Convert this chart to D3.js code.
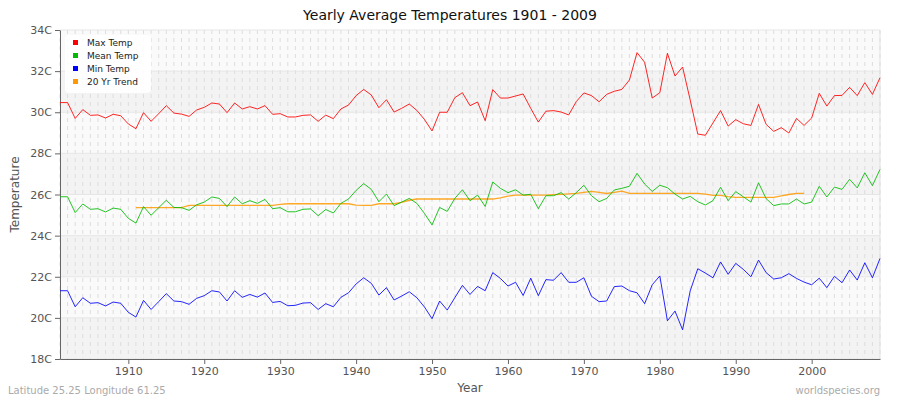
<!DOCTYPE html>
<html>
<head>
<meta charset="utf-8">
<script src="https://cdn.jsdelivr.net/npm/d3@7"></script>
<style>
  body { margin: 0; background: #fff; }
  text { font-family: "DejaVu Sans", Verdana, sans-serif; }
</style>
</head>
<body>
<div id="chart"></div>
<script>
// values, one per year 1901..2009
const firstYear = 1901;
const maxTemp = [
  30.47, 30.47, 29.70, 30.13, 29.85, 29.87, 29.72, 29.90, 29.83, 29.43,
  29.20, 29.98, 29.56, 29.93, 30.32, 29.96, 29.91, 29.80, 30.11, 30.24,
  30.45, 30.40, 29.98, 30.45, 30.16, 30.27, 30.16, 30.32, 29.90, 29.93,
  29.77, 29.77, 29.85, 29.87, 29.56, 29.86, 29.69, 30.16, 30.35, 30.81,
  31.11, 30.84, 30.22, 30.61, 30.01, 30.19, 30.40, 30.09, 29.65, 29.09,
  30.00, 30.00, 30.71, 30.95, 30.32, 30.50, 29.59, 31.10, 30.69, 30.69,
  30.79, 30.89, 30.19, 29.52, 30.05, 30.08, 30.01, 29.87, 30.52, 30.94,
  30.81, 30.51, 30.87, 31.02, 31.11, 31.57, 32.90, 32.43, 30.69, 30.95,
  32.87, 31.76, 32.20, 30.60, 28.94, 28.88, 29.48, 30.08, 29.33, 29.64,
  29.44, 29.36, 30.38, 29.41, 29.07, 29.25, 28.99, 29.70, 29.36, 29.72,
  30.92, 30.30, 30.81, 30.82, 31.21, 30.81, 31.44, 30.87, 31.68
];
const meanTemp = [
  25.89, 25.89, 25.12, 25.54, 25.28, 25.31, 25.15, 25.34, 25.28, 24.84,
  24.61, 25.41, 24.99, 25.36, 25.72, 25.37, 25.36, 25.23, 25.50, 25.63,
  25.88, 25.81, 25.41, 25.88, 25.55, 25.70, 25.57, 25.76, 25.31, 25.36,
  25.16, 25.16, 25.28, 25.30, 24.97, 25.27, 25.10, 25.57, 25.78, 26.20,
  26.53, 26.25, 25.65, 26.02, 25.46, 25.63, 25.81, 25.57, 25.08, 24.52,
  25.37, 25.18, 25.81, 26.23, 25.70, 25.97, 25.42, 26.61, 26.30, 26.09,
  26.23, 25.97, 26.01, 25.31, 25.94, 25.94, 26.09, 25.78, 26.09, 26.45,
  25.94, 25.65, 25.81, 26.22, 26.30, 26.40, 27.03, 26.51, 26.15, 26.45,
  26.33, 26.02, 25.78, 25.91, 25.65, 25.49, 25.70, 26.35, 25.70, 26.14,
  25.89, 25.63, 26.57, 25.80, 25.46, 25.54, 25.54, 25.78, 25.54, 25.63,
  26.40, 25.88, 26.36, 26.25, 26.74, 26.32, 27.06, 26.43, 27.22
];
const minTemp = [
  21.32, 21.32, 20.54, 20.98, 20.71, 20.74, 20.58, 20.77, 20.71, 20.27,
  20.04, 20.85, 20.41, 20.79, 21.18, 20.82, 20.79, 20.66, 20.95, 21.08,
  21.32, 21.26, 20.82, 21.32, 21.00, 21.14, 21.01, 21.21, 20.75, 20.80,
  20.59, 20.61, 20.72, 20.74, 20.41, 20.69, 20.54, 21.00, 21.22, 21.65,
  21.95, 21.68, 21.11, 21.47, 20.87, 21.06, 21.27, 20.98, 20.53, 19.96,
  20.82, 20.38, 20.98, 21.58, 21.14, 21.53, 21.32, 22.20, 21.92, 21.55,
  21.73, 21.09, 21.93, 21.08, 21.86, 21.83, 22.20, 21.73, 21.73, 21.95,
  21.05, 20.79, 20.82, 21.52, 21.55, 21.32, 21.22, 20.69, 21.61, 22.04,
  19.86, 20.33, 19.42, 21.31, 22.39, 22.18, 21.95, 22.72, 22.12, 22.65,
  22.36, 22.00, 22.81, 22.20, 21.89, 21.95, 22.15, 21.92, 21.74, 21.61,
  21.93, 21.47, 22.02, 21.71, 22.33, 21.84, 22.68, 21.95, 22.89
];
// 20 year trend, 1911..1999
const trendStart = 1911;
const trend = [
  25.36, 25.36, 25.36, 25.36, 25.36, 25.36, 25.36, 25.47, 25.47, 25.47,
  25.47, 25.47, 25.47, 25.47, 25.47, 25.47, 25.47, 25.47, 25.47, 25.52,
  25.55, 25.55, 25.55, 25.55, 25.55, 25.55, 25.55, 25.55, 25.55, 25.48,
  25.47, 25.47, 25.55, 25.55, 25.55, 25.62, 25.72, 25.78, 25.78, 25.78,
  25.78, 25.78, 25.78, 25.78, 25.78, 25.78, 25.78, 25.78, 25.84, 25.92,
  25.97, 25.97, 25.97, 25.97, 25.97, 25.99, 26.01, 26.03, 26.05, 26.10,
  26.15, 26.10, 26.05, 26.10, 26.16, 26.05, 26.05, 26.05, 26.05, 26.05,
  26.05, 26.05, 26.05, 26.05, 26.05, 26.02, 25.96, 25.96, 25.90, 25.86,
  25.86, 25.86, 25.86, 25.86, 25.86, 25.93, 26.00, 26.05, 26.05
];
const yTicks = [18, 20, 22, 24, 26, 28, 30, 32, 34];
const xTicks = [1910, 1920, 1930, 1940, 1950, 1960, 1970, 1980, 1990, 2000];
const seriesNames = ["Max Temp", "Mean Temp", "Min Temp", "20 Yr Trend"];
const seriesColors = ["#ff0000", "#00bb00", "#0000ff", "#ff9900"];

const width = 900, height = 400;
const margin = { top: 30, right: 20, bottom: 41, left: 60 };

const svg = d3.select("#chart").append("svg")
  .attr("width", width)
  .attr("height", height);

const x = d3.scaleLinear()
  .domain([1901, 2009])
  .range([margin.left, width - margin.right]);

const y = d3.scaleLinear()
  .domain([18, 34])
  .range([height - margin.bottom, margin.top]);

// background bands
const bands = d3.range(18, 34, 2);
svg.append("g").selectAll("rect")
  .data(bands)
  .enter()
  .append("rect")
  .attr("x", x(1901))
  .attr("width", x(2009) - x(1901))
  .attr("y", d => y(d + 2))
  .attr("height", d => y(d) - y(d + 2))
  .attr("fill", d => (d / 2) % 2 === 0 ? "#fafafa" : "#f3f3f3");

// vertical dashed year grid
const years = d3.range(1901, 2010);
svg.append("g").selectAll("line")
  .data(years)
  .enter()
  .append("line")
  .attr("x1", d => x(d)).attr("x2", d => x(d))
  .attr("y1", y(34)).attr("y2", y(18))
  .attr("stroke", "#dddddd")
  .attr("stroke-width", 1)
  .attr("stroke-dasharray", "4,4");

// horizontal grid
svg.append("g").selectAll("line")
  .data(yTicks)
  .enter()
  .append("line")
  .attr("x1", x(1901)).attr("x2", x(2009))
  .attr("y1", d => y(d)).attr("y2", d => y(d))
  .attr("stroke", "#e6e6e6");

// right border
svg.append("line")
  .attr("x1", x(2009)).attr("x2", x(2009))
  .attr("y1", y(34)).attr("y2", y(18))
  .attr("stroke", "#e0e0e0");

// axes
const yAxis = svg.append("g")
  .attr("transform", `translate(${margin.left},0)`)
  .call(d3.axisLeft(y).tickValues(yTicks).tickFormat(d => d + "C").tickSize(5).tickSizeOuter(0));
const xAxis = svg.append("g")
  .attr("transform", `translate(0,${height - margin.bottom})`)
  .call(d3.axisBottom(x).tickValues(xTicks).tickFormat(d3.format("d")).tickSize(5).tickSizeOuter(0));
[xAxis, yAxis].forEach(a => {
  a.select(".domain").attr("stroke", "#666");
  a.selectAll(".tick line").attr("stroke", "#666");
  a.selectAll("text").attr("fill", "#555").style("font-size", "11px");
});

// lines
const line = d3.line()
  .x(d => x(d.year))
  .y(d => y(d.value));

const toPoints = (arr, start) => arr.map((v, i) => ({ year: start + i, value: v }));

const lineData = [
  toPoints(maxTemp, firstYear),
  toPoints(meanTemp, firstYear),
  toPoints(minTemp, firstYear),
  toPoints(trend, trendStart)
];
// trend drawn under the data lines
[3, 0, 1, 2].forEach(i => {
  svg.append("path")
    .datum(lineData[i])
    .attr("d", line)
    .attr("fill", "none")
    .attr("stroke", seriesColors[i])
    .attr("stroke-width", i === 3 ? 1.3 : 1)
    .attr("opacity", 0.85);
});

// legend
const legend = svg.append("g").attr("transform", "translate(65,35)");
legend.append("rect")
  .attr("width", 86).attr("height", 58).attr("rx", 4)
  .attr("fill", "#fff").attr("opacity", 0.9);
seriesNames.forEach((name, i) => {
  const g = legend.append("g").attr("transform", `translate(8,${8 + i * 13})`);
  g.append("rect").attr("width", 5).attr("height", 5).attr("y", -3).attr("fill", seriesColors[i]);
  g.append("text").attr("x", 14).attr("y", 3).style("font-size", "9px").attr("fill", "#222").text(name);
});

// titles
svg.append("text")
  .attr("x", 450).attr("y", 20)
  .attr("text-anchor", "middle")
  .style("font-size", "14px").attr("fill", "#111")
  .text("Yearly Average Temperatures 1901 - 2009");
svg.append("text")
  .attr("x", x(1955)).attr("y", 392)
  .attr("text-anchor", "middle")
  .style("font-size", "12px").attr("fill", "#555")
  .text("Year");
svg.append("text")
  .attr("transform", `translate(19,${y(26)}) rotate(-90)`)
  .attr("text-anchor", "middle")
  .style("font-size", "12px").attr("fill", "#555")
  .text("Temperature");
svg.append("text")
  .attr("x", 8).attr("y", 394)
  .style("font-size", "10px").attr("fill", "#aaa")
  .text("Latitude 25.25 Longitude 61.25");
svg.append("text")
  .attr("x", 880).attr("y", 394)
  .attr("text-anchor", "end")
  .style("font-size", "10px").attr("fill", "#aaa")
  .text("worldspecies.org");
</script>
</body>
</html>
